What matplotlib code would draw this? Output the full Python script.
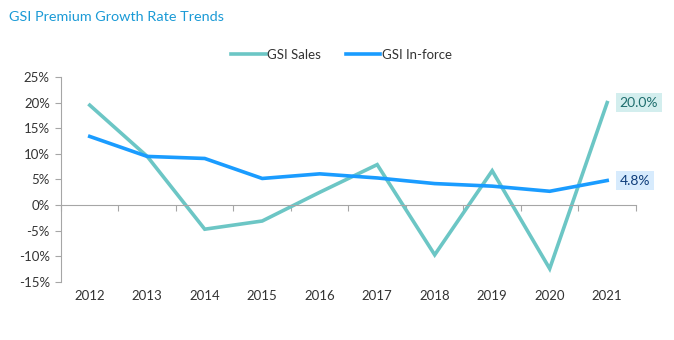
import numpy as np
import matplotlib
matplotlib.use('Agg')
import matplotlib.pyplot as plt

# Données
years = ['2012', '2013', '2014', '2015', '2016', '2017', '2018', '2019', '2020', '2021']
gsi_sales = [19.5, 9.5, -4.7, -3.1, 2.5, 7.9, -9.7, 6.7, -12.4, 20.0]
gsi_inforce = [13.4, 9.5, 9.1, 5.2, 6.1, 5.3, 4.2, 3.7, 2.7, 4.8]
y_ticks = [-15, -10, -5, 0, 5, 10, 15, 20, 25]

col_sales = '#6cc6c5'
col_inforce = '#1a9cff'
grey = '#a6a6a6'

plt.rcParams['font.family'] = ['Lato', 'DejaVu Sans']

fig = plt.figure(figsize=(6.74, 3.4), dpi=100)
ax = fig.add_axes([0.0905, 0.1706, 0.853, 0.603])

x = np.arange(len(years))
ax.plot(x, gsi_sales, color=col_sales, lw=2.6, label='GSI Sales', solid_joinstyle='miter')
ax.plot(x, gsi_inforce, color=col_inforce, lw=2.6, label='GSI In-force', solid_joinstyle='miter')

ax.set_xlim(-0.5, len(years) - 0.5)
ax.set_ylim(-15, 25)
ax.set_yticks(y_ticks)
ax.set_yticklabels([f'{v}%' for v in y_ticks], fontsize=9.5, color='#333333')
ax.tick_params(axis='y', length=4, color=grey, width=0.8, pad=4)

# axe x sur la ligne zéro, graduations entre catégories
ax.spines['bottom'].set_position(('data', 0))
ax.spines['bottom'].set_color(grey)
ax.spines['left'].set_color(grey)
ax.spines['top'].set_visible(False)
ax.spines['right'].set_visible(False)
ax.set_xticks(np.arange(len(years) + 1) - 0.5)
ax.set_xticklabels([])
ax.tick_params(axis='x', length=4, color=grey, width=0.8, direction='out')
for i, yr in enumerate(years):
    ax.text(i, -17.7, yr, ha='center', va='center', fontsize=9.5, color='#333333')

# étiquettes de fin
ax.annotate('20.0%', xy=(9, gsi_sales[-1]), xytext=(9, 0), textcoords='offset points',
            va='center', ha='left', fontsize=10, color='#1e6e6e',
            bbox=dict(boxstyle='square,pad=0.25', fc='#d3eeee', ec='none'))
ax.annotate('4.8%', xy=(9, gsi_inforce[-1]), xytext=(9, 0), textcoords='offset points',
            va='center', ha='left', fontsize=10, color='#0f3d7a',
            bbox=dict(boxstyle='square,pad=0.25', fc='#d7ebfd', ec='none'))

leg = ax.legend(loc='lower center', bbox_to_anchor=(0.488, 1.02), ncol=2, frameon=False,
                fontsize=9.5, handlelength=2.6, columnspacing=1.9, handletextpad=0.1)
for t in leg.get_texts():
    t.set_color('#333333')

fig.text(0.013, 0.95, 'GSI Premium Growth Rate Trends', fontsize=10.4, color='#1a9ad6',
         ha='left', va='center')

fig.savefig('out.png', dpi=100)
